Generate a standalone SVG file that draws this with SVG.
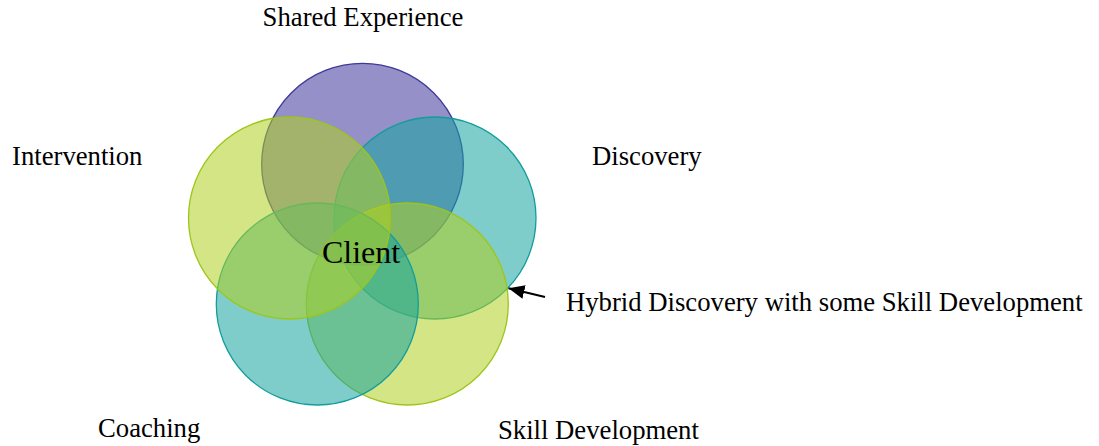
<svg xmlns="http://www.w3.org/2000/svg" width="1099" height="446" viewBox="0 0 1099 446">
<style>
text{font-family:"Liberation Serif","Times New Roman",serif;fill:#000}
.lbl{font-size:26.7px}
.c{stroke-width:1.3}
.pur{fill:#3e359b;fill-opacity:.55;stroke:#3d3a99}
.teal{fill:#16a4a0;fill-opacity:.55;stroke:#139c9c}
.yg{fill:#b1d021;fill-opacity:.55;stroke:#9cc61a}
</style>
<defs>
<marker id="ah" markerWidth="16" markerHeight="14" refX="16" refY="7" orient="auto" markerUnits="userSpaceOnUse" viewBox="0 0 16 14">
<path d="M0,0 L16,7 L0,14 z" fill="#000"/>
</marker>
</defs>
<rect width="1099" height="446" fill="#fff"/>
<g id="shared-experience"><circle class="c pur" cx="362.5" cy="164.2" r="100.8"/></g>
<g id="discovery"><circle class="c teal" cx="435" cy="218" r="101"/></g>
<g id="skill-development"><circle class="c yg" cx="407.3" cy="304" r="101"/></g>
<g id="coaching"><circle class="c teal" cx="317.3" cy="304" r="101"/></g>
<g id="intervention"><circle class="c yg" cx="289.5" cy="218" r="101"/></g>
<g id="client"><text x="361" y="263" font-size="32" text-anchor="middle">Client</text></g>
<g id="labels">
<text class="lbl" x="363" y="26" text-anchor="middle">Shared Experience</text>
<text class="lbl" x="12" y="165">Intervention</text>
<text class="lbl" x="592" y="165">Discovery</text>
<text class="lbl" x="98" y="436.5">Coaching</text>
<text class="lbl" x="498" y="439">Skill Development</text>
<text class="lbl" x="566" y="311">Hybrid Discovery with some Skill Development</text>
</g>
<g id="connectors">
<line x1="545" y1="297" x2="508.5" y2="288.3" stroke="#000" stroke-width="2" marker-end="url(#ah)"/>
</g>
</svg>
